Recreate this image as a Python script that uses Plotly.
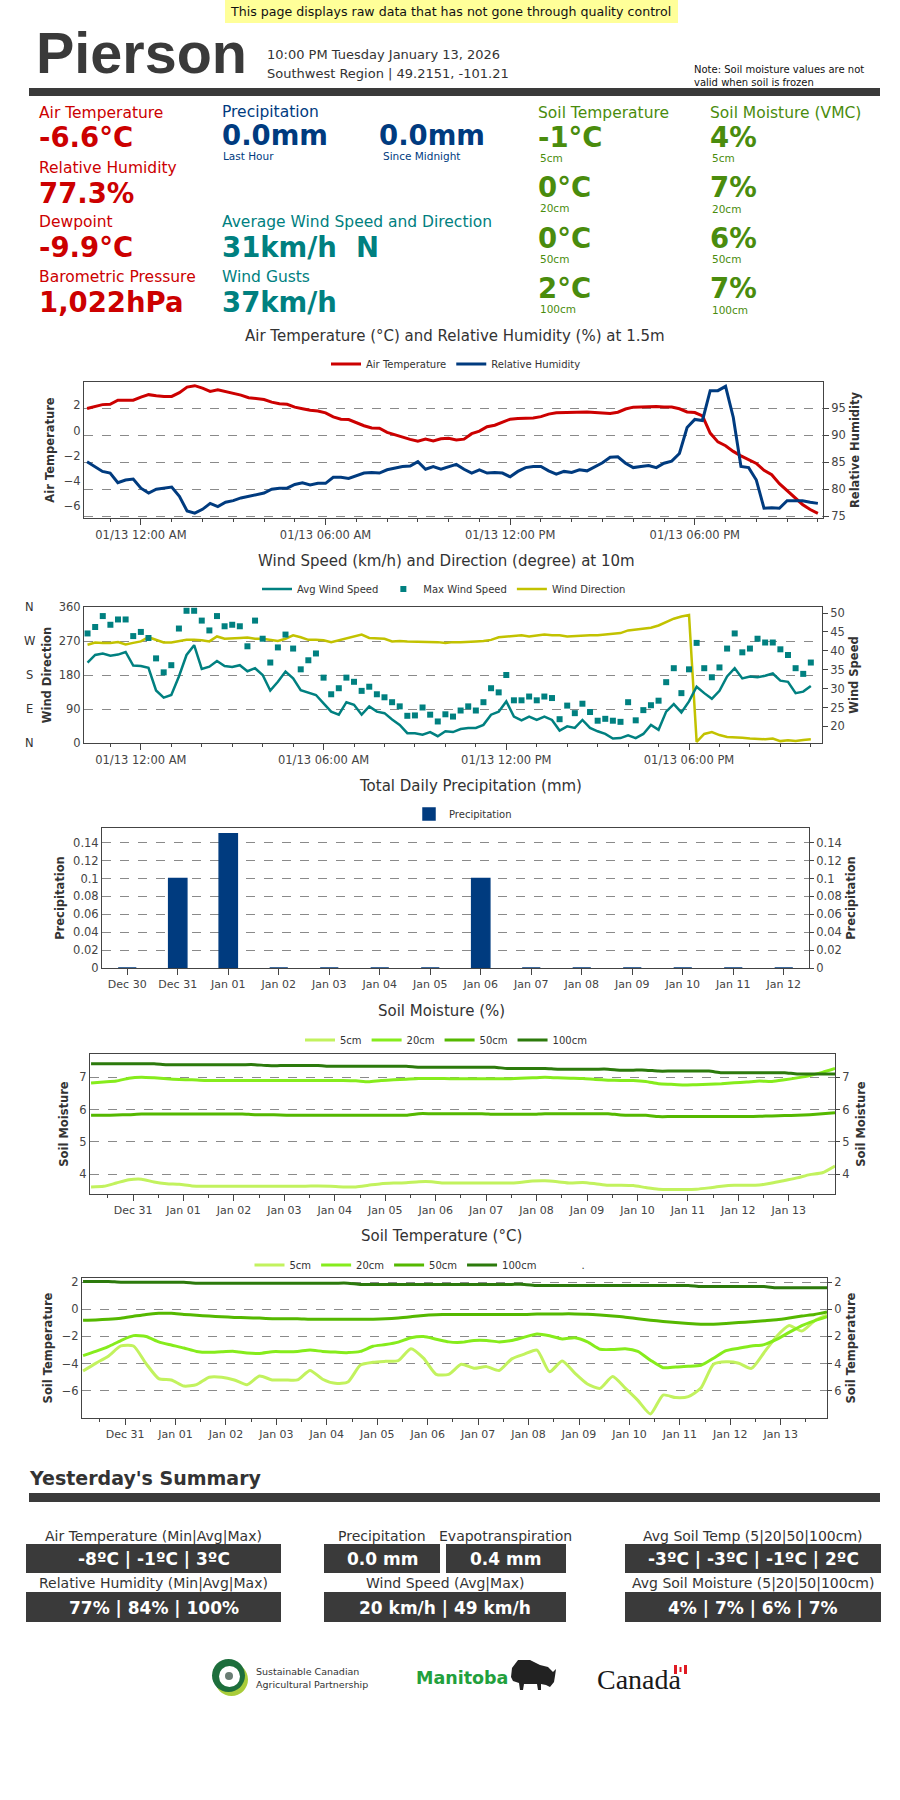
import plotly.graph_objects as go
import pandas as pd

# ---------------- DATA ----------------
station = "Pierson"
obs_time = "10:00 PM Tuesday January 13, 2026"
region_line = "Southwest Region | 49.2151, -101.21"

# 15-minute observations, last 24 h
obs_times = pd.date_range("2026-01-12 22:15", "2026-01-13 22:00", freq="15min")
air_temp = [1.75, 1.9, 2.05, 2.08, 2.4, 2.4, 2.4, 2.65, 2.84, 2.76,
            2.7, 2.7, 3.0, 3.44, 3.55, 3.35, 3.1, 3.23, 3.1, 2.95,
            2.8, 2.6, 2.52, 2.45, 2.25, 2.12, 2.08, 1.85, 1.72, 1.6,
            1.55, 1.4, 1.08, 0.9, 0.87, 0.62, 0.38, 0.2, 0.18, -0.15,
            -0.35, -0.55, -0.7, -0.85, -0.68, -0.82, -0.65, -0.62, -0.75, -0.68,
            -0.25, -0.05, 0.3, 0.42, 0.65, 0.9, 0.95, 0.95, 1.0, 1.1,
            1.3, 1.4, 1.42, 1.42, 1.42, 1.47, 1.42, 1.35, 1.34, 1.45,
            1.7, 1.85, 1.87, 1.92, 1.9, 1.87, 1.86, 1.72, 1.47, 1.42,
            1.15, -0.2, -0.9, -1.2, -1.65, -2.0, -2.3, -2.6, -3.15, -3.5,
            -4.2, -4.75, -5.3, -5.85, -6.25, -6.55]
rel_hum = [85.1, 84.2, 83.3, 83.0, 81.2, 81.7, 81.9, 80.2, 79.3, 80.0,
           80.2, 80.4, 78.7, 76.0, 75.6, 76.3, 77.4, 76.8, 77.6, 77.9,
           78.4, 78.7, 78.9, 79.3, 80.0, 80.2, 80.2, 80.9, 81.2, 80.8,
           81.1, 81.1, 82.2, 82.2, 82.0, 82.5, 83.0, 83.1, 83.0, 83.6,
           83.9, 84.2, 84.3, 85.1, 83.7, 84.2, 83.7, 84.1, 84.6, 83.7,
           83.0, 83.6, 83.0, 83.1, 83.0, 82.3, 83.3, 84.0, 84.2, 84.2,
           83.4, 82.8, 83.3, 83.1, 83.6, 83.4, 84.2, 84.9, 85.9, 86.0,
           84.8, 84.0, 84.2, 84.4, 84.0, 84.8, 85.2, 86.6, 91.4, 92.9,
           92.7, 98.2, 98.2, 99.0, 93.3, 84.2, 84.0, 81.7, 76.5, 76.6,
           76.5, 77.9, 77.9, 77.9, 77.6, 77.4]
avg_wind = [36.9, 38.9, 39.3, 38.7, 39.0, 39.7, 36.1, 36.0, 35.5, 29.5,
            27.6, 28.3, 33.2, 38.9, 41.5, 35.2, 35.8, 37.3, 36.0, 35.7,
            36.2, 34.6, 35.4, 33.6, 29.5, 31.8, 34.5, 32.7, 29.6, 29.0,
            28.3, 26.1, 23.9, 23.1, 26.4, 25.7, 23.1, 25.3, 23.9, 23.5,
            21.8, 20.4, 18.2, 18.2, 17.8, 18.5, 17.4, 18.7, 18.5, 19.3,
            19.6, 19.6, 20.4, 23.1, 23.9, 26.6, 22.6, 21.6, 22.6, 21.7,
            22.6, 21.7, 18.9, 20.0, 19.6, 21.7, 19.6, 18.7, 18.0, 16.8,
            16.9, 17.6, 16.9, 18.0, 20.4, 19.1, 23.9, 25.9, 23.7, 26.6,
            30.5, 28.8, 27.3, 29.4, 33.2, 35.4, 32.7, 33.2, 33.0, 33.4,
            34.0, 32.1, 31.8, 28.8, 29.2, 30.7]
max_wind = [44.6, 46.3, 49.2, 46.9, 48.3, 48.3, 43.9, 45.0, 43.4, 38.0,
            34.3, 36.2, 45.9, 50.6, 50.6, 48.0, 45.4, 49.2, 46.5, 46.9,
            46.5, 41.2, 48.0, 43.2, 36.9, 40.9, 44.3, 40.6, 35.1, 37.5,
            39.3, 32.9, 28.5, 30.1, 32.9, 31.8, 29.4, 30.5, 28.5, 27.7,
            26.4, 25.3, 22.8, 22.9, 25.0, 23.1, 21.3, 23.2, 22.6, 24.2,
            25.3, 24.2, 26.4, 30.1, 29.0, 33.6, 26.9, 26.9, 27.9, 26.9,
            27.9, 27.5, 21.9, 25.5, 23.5, 26.0, 23.8, 21.5, 22.0, 21.5,
            21.2, 26.4, 21.6, 24.3, 25.6, 26.8, 31.7, 35.4, 28.8, 35.1,
            42.1, 35.4, 33.0, 35.6, 40.6, 44.6, 39.6, 40.6, 43.2, 42.2,
            42.2, 40.4, 38.9, 35.4, 33.9, 36.9]
wind_dir = [260, 266, 265, 265, 267, 261, 265, 269, 280, 272,
            266, 266, 270, 273, 273, 272, 269, 282, 276, 276,
            278, 279, 276, 276, 273, 270, 276, 285, 280, 273,
            273, 272, 267, 272, 279, 283, 287, 278, 278, 276,
            269, 270, 269, 269, 267, 269, 267, 265, 267, 267,
            269, 269, 270, 273, 280, 282, 285, 285, 282, 285,
            287, 285, 285, 282, 283, 285, 285, 285, 287, 289,
            291, 298, 301, 302, 305, 311, 320, 329, 335, 339,
            3, 24, 29, 21, 16, 16, 14, 12, 11, 10,
            12, 5, 7, 5, 8, 10]
time_tickvals = ["2026-01-13 00:00", "2026-01-13 06:00", "2026-01-13 12:00", "2026-01-13 18:00"]
time_ticktext = ["01/13 12:00 AM", "01/13 06:00 AM", "01/13 12:00 PM", "01/13 06:00 PM"]
compass_vals = [360, 270, 180, 90, 0]
compass_text = ["N", "W", "S", "E", "N"]

precip_days = ["Dec 30", "Dec 31", "Jan 01", "Jan 02", "Jan 03", "Jan 04", "Jan 05",
               "Jan 06", "Jan 07", "Jan 08", "Jan 09", "Jan 10", "Jan 11", "Jan 12"]
precip_mm = [0, 0.1, 0.15, 0, 0, 0, 0, 0.1, 0, 0, 0, 0, 0, 0]
precip_ticks = [0, 0.02, 0.04, 0.06, 0.08, 0.1, 0.12, 0.14]
precip_ticktext = ["0", "0.02", "0.04", "0.06", "0.08", "0.1", "0.12", "0.14"]

# 6-hourly soil readings over ~15 days
soil_times = pd.date_range("2025-12-30 04:00", "2026-01-13 22:00", freq="6h")
soil_day_vals = ["2025-12-31", "2026-01-01", "2026-01-02", "2026-01-03", "2026-01-04",
                 "2026-01-05", "2026-01-06", "2026-01-07", "2026-01-08", "2026-01-09",
                 "2026-01-10", "2026-01-11", "2026-01-12", "2026-01-13"]
soil_day_text = ["Dec 31", "Jan 01", "Jan 02", "Jan 03", "Jan 04", "Jan 05", "Jan 06",
                 "Jan 07", "Jan 08", "Jan 09", "Jan 10", "Jan 11", "Jan 12", "Jan 13"]
sm_5 = [3.6, 3.62, 3.72, 3.82, 3.84, 3.75, 3.7, 3.68, 3.63, 3.62,
        3.62, 3.62, 3.62, 3.62, 3.62, 3.62, 3.62, 3.62, 3.63, 3.62,
        3.6, 3.6, 3.65, 3.7, 3.72, 3.73, 3.76, 3.76, 3.72, 3.72,
        3.72, 3.72, 3.72, 3.72, 3.74, 3.78, 3.79, 3.76, 3.72, 3.74,
        3.7, 3.65, 3.65, 3.64, 3.58, 3.53, 3.52, 3.52, 3.53, 3.57,
        3.62, 3.65, 3.65, 3.66, 3.72, 3.8, 3.88, 3.98, 4.04, 4.25]
sm_20 = [6.82, 6.85, 6.88, 6.97, 7.0, 6.98, 6.95, 6.93, 6.92, 6.9,
         6.9, 6.9, 6.9, 6.9, 6.9, 6.9, 6.9, 6.9, 6.9, 6.9,
         6.9, 6.89, 6.86, 6.9, 6.92, 6.94, 6.96, 6.96, 6.96, 6.95,
         6.95, 6.95, 6.95, 6.95, 6.97, 6.98, 7.0, 6.98, 6.97, 6.96,
         6.93, 6.91, 6.9, 6.9, 6.87, 6.8, 6.78, 6.76, 6.77, 6.78,
         6.8, 6.83, 6.85, 6.88, 6.87, 6.92, 6.98, 7.05, 7.15, 7.27]
sm_50 = [5.82, 5.82, 5.83, 5.84, 5.86, 5.86, 5.86, 5.86, 5.86, 5.86,
         5.86, 5.86, 5.86, 5.84, 5.84, 5.83, 5.82, 5.82, 5.82, 5.82,
         5.82, 5.82, 5.82, 5.82, 5.82, 5.82, 5.87, 5.87, 5.87, 5.87,
         5.87, 5.87, 5.85, 5.85, 5.85, 5.85, 5.87, 5.87, 5.87, 5.87,
         5.87, 5.87, 5.83, 5.82, 5.82, 5.78, 5.78, 5.78, 5.78, 5.78,
         5.78, 5.78, 5.78, 5.79, 5.8, 5.81, 5.82, 5.84, 5.87, 5.9]
sm_100 = [7.42, 7.42, 7.42, 7.42, 7.42, 7.42, 7.39, 7.39, 7.39, 7.39,
          7.39, 7.39, 7.39, 7.39, 7.36, 7.36, 7.36, 7.36, 7.36, 7.34,
          7.34, 7.34, 7.34, 7.34, 7.34, 7.34, 7.31, 7.31, 7.31, 7.31,
          7.31, 7.31, 7.31, 7.27, 7.27, 7.27, 7.27, 7.25, 7.25, 7.25,
          7.25, 7.25, 7.22, 7.22, 7.22, 7.19, 7.19, 7.19, 7.19, 7.19,
          7.14, 7.14, 7.14, 7.14, 7.14, 7.14, 7.1, 7.1, 7.1, 7.1]
st_5 = [-4.54, -3.98, -3.45, -2.7, -2.7, -4.0, -5.1, -5.2, -5.65, -5.55,
        -5.0, -5.0, -5.2, -5.55, -4.91, -5.2, -5.2, -5.2, -4.5, -5.15,
        -5.45, -5.35, -4.1, -3.9, -3.83, -3.78, -2.9, -3.6, -4.79, -4.79,
        -4.05, -4.34, -4.22, -4.5, -3.65, -3.3, -3.0, -4.6, -3.8, -4.7,
        -5.5, -5.82, -4.95, -5.8, -6.7, -7.7, -6.31, -6.5, -6.43, -5.8,
        -4.05, -3.87, -3.97, -4.35, -3.2, -2.0, -1.2, -1.6, -0.86, -0.42]
st_20 = [-3.41, -3.1, -2.75, -2.3, -1.94, -2.0, -2.4, -2.63, -2.85, -3.1,
         -3.17, -3.12, -3.1, -3.22, -3.25, -3.12, -3.12, -3.1, -3.0, -3.1,
         -3.15, -3.19, -3.1, -2.72, -2.6, -2.42, -2.1, -2.01, -2.2, -2.4,
         -2.43, -2.3, -2.3, -2.4, -2.3, -2.05, -1.82, -1.95, -2.18, -2.1,
         -2.4, -2.94, -2.96, -2.9, -3.1, -3.75, -4.3, -4.24, -4.2, -4.12,
         -3.6, -3.05, -2.87, -2.7, -2.6, -2.22, -1.7, -1.2, -0.85, -0.55]
st_50 = [-0.81, -0.79, -0.74, -0.66, -0.52, -0.38, -0.3, -0.3, -0.38, -0.44,
         -0.5, -0.55, -0.6, -0.62, -0.65, -0.69, -0.7, -0.7, -0.73, -0.74,
         -0.74, -0.74, -0.74, -0.73, -0.7, -0.64, -0.55, -0.45, -0.4, -0.38,
         -0.38, -0.38, -0.38, -0.38, -0.38, -0.38, -0.35, -0.34, -0.34, -0.34,
         -0.36, -0.42, -0.5, -0.58, -0.7, -0.8, -0.9, -0.98, -1.05, -1.1,
         -1.1, -1.05, -0.98, -0.92, -0.85, -0.78, -0.65, -0.5, -0.38, -0.2]
st_100 = [2.04, 2.04, 2.04, 1.99, 1.99, 1.99, 1.99, 1.99, 1.99, 1.92,
          1.92, 1.92, 1.92, 1.92, 1.92, 1.92, 1.92, 1.92, 1.92, 1.92,
          1.92, 1.92, 1.83, 1.83, 1.83, 1.83, 1.83, 1.83, 1.83, 1.83,
          1.83, 1.83, 1.83, 1.83, 1.83, 1.83, 1.75, 1.75, 1.75, 1.75,
          1.75, 1.75, 1.75, 1.75, 1.75, 1.75, 1.75, 1.75, 1.75, 1.67,
          1.67, 1.67, 1.67, 1.67, 1.67, 1.58, 1.58, 1.58, 1.58, 1.58]
soil_depths = ["5cm", "20cm", "50cm", "100cm"]
soil_temp_right_text = ["6", "4", "2", "0", "2"]

# current conditions text
cur_air = "-6.6°C"; cur_rh = "77.3%"; cur_dew = "-9.9°C"; cur_bp = "1,022hPa"
cur_pcp_hr = "0.0mm"; cur_pcp_mid = "0.0mm"; cur_wind = "31km/h\u00a0\u00a0N"; cur_gust = "37km/h"
cur_soil_t = ["-1°C", "0°C", "0°C", "2°C"]
cur_soil_m = ["4%", "7%", "6%", "7%"]

# yesterday's summary
sum_air = "-8ºC | -1ºC | 3ºC"; sum_rh = "77% | 84% | 100%"
sum_pcp = "0.0 mm"; sum_et = "0.4 mm"; sum_wind = "20 km/h | 49 km/h"
sum_soil_t = "-3ºC | -3ºC | -1ºC | 2ºC"; sum_soil_m = "4% | 7% | 6% | 7%"

# ---------------- STYLE / HELPERS ----------------
W, H = 900, 1800
F = "DejaVu Sans, Verdana, sans-serif"
RED = "#cc0000"; NAVY = "#003b7f"; TEAL = "#008080"; YEL = "#c2c200"; GRN = "#4a8c0d"
DARK = "#3a3a3a"; AX = "#444444"; TXT = "#333333"
SOIL_COLORS = ["#c2f25e", "#86ec1c", "#55b800", "#2c7a0c"]
SOIL_RANGE = ["2025-12-30 03:30", "2026-01-13 22:00"]


def px(x):
    return x / W


def py(y):
    return 1 - y / H


def M(*ds, **kw):
    out = {}
    for d in ds:
        out.update(d)
    out.update(kw)
    return out


def ann(x, y, text, size, color=TXT, family=F, xanchor="left", yanchor="middle"):
    return dict(x=px(x), y=py(y), xref="paper", yref="paper", text=text, showarrow=False,
                font=dict(size=size, color=color, family=family), xanchor=xanchor, yanchor=yanchor)


def rect(x0, y0, x1, y1, color, layer="below"):
    return dict(type="rect", xref="paper", yref="paper", x0=px(x0), x1=px(x1), y0=py(y1), y1=py(y0),
                fillcolor=color, line=dict(width=0), layer=layer)


def circ(x0, y0, x1, y1, color):
    return dict(type="circle", xref="paper", yref="paper", x0=px(x0), x1=px(x1), y0=py(y1), y1=py(y0),
                fillcolor=color, line=dict(width=0), layer="above")


tickfont = dict(family=F, size=11.5, color=AX)
xsmallfont = dict(family=F, size=11, color=AX)
ytitlefont = dict(family=F, size=11.5, color=TXT)
legfont = dict(family=F, size=10, color=TXT)
base_ax = dict(showline=True, linecolor=AX, linewidth=1, zeroline=False, automargin=False)
grid_on = dict(showgrid=True, gridcolor="#8a8a8a", griddash="dash", gridwidth=1)

fig = go.Figure()

# ---------- Chart 1: air temp / RH ----------
fig.add_trace(go.Scatter(x=obs_times, y=air_temp, name="Air Temperature", mode="lines",
                         line=dict(color=RED, width=3), xaxis="x", yaxis="y", legend="legend"))
fig.add_trace(go.Scatter(x=obs_times, y=rel_hum, name="Relative Humidity", mode="lines",
                         line=dict(color=NAVY, width=3), xaxis="x", yaxis="y2", legend="legend"))

# ---------- Chart 2: wind ----------
fig.add_trace(go.Scatter(x=obs_times, y=avg_wind, name="Avg Wind Speed", mode="lines",
                         line=dict(color=TEAL, width=2.5), xaxis="x2", yaxis="y4", legend="legend2"))
fig.add_trace(go.Scatter(x=obs_times, y=max_wind, name="Max Wind Speed", mode="markers",
                         marker=dict(color=TEAL, size=6, symbol="square"), xaxis="x2", yaxis="y4",
                         legend="legend2"))
fig.add_trace(go.Scatter(x=obs_times, y=wind_dir, name="Wind Direction", mode="lines",
                         line=dict(color=YEL, width=2.5), xaxis="x2", yaxis="y3", legend="legend2"))

# ---------- Chart 3: precipitation ----------
fig.add_trace(go.Bar(x=precip_days, y=precip_mm, name="Precipitation", width=0.36,
                     marker=dict(color=NAVY, line=dict(color=NAVY, width=1.5)),
                     xaxis="x3", yaxis="y5", legend="legend3"))
fig.add_trace(go.Scatter(x=precip_days[:1], y=precip_mm[:1], mode="markers", marker=dict(opacity=0),
                         showlegend=False, hoverinfo="skip", xaxis="x3", yaxis="y6"))

# ---------- Chart 4: soil moisture ----------
for name, vals, col in zip(soil_depths, [sm_5, sm_20, sm_50, sm_100], SOIL_COLORS):
    fig.add_trace(go.Scatter(x=soil_times, y=vals, name=name, mode="lines",
                             line=dict(color=col, width=3, shape="spline", smoothing=0.6),
                             xaxis="x4", yaxis="y7", legend="legend4"))
fig.add_trace(go.Scatter(x=soil_times[:1], y=sm_5[:1], mode="markers", marker=dict(opacity=0),
                         showlegend=False, hoverinfo="skip", xaxis="x4", yaxis="y8"))

# ---------- Chart 5: soil temperature ----------
for name, vals, col in zip(soil_depths, [st_5, st_20, st_50, st_100], SOIL_COLORS):
    fig.add_trace(go.Scatter(x=soil_times, y=vals, name=name, mode="lines",
                             line=dict(color=col, width=3, shape="spline", smoothing=0.6),
                             xaxis="x5", yaxis="y9", legend="legend5"))
fig.add_trace(go.Scatter(x=[None], y=[None], name=".", mode="lines",
                         line=dict(color="rgba(0,0,0,0)", width=3), xaxis="x5", yaxis="y9",
                         legend="legend5"))
fig.add_trace(go.Scatter(x=soil_times[:1], y=st_5[:1], mode="markers", marker=dict(opacity=0),
                         showlegend=False, hoverinfo="skip", xaxis="x5", yaxis="y10"))


def time_x(dom, anchor, rng):
    return M(base_ax, domain=[px(dom[0]), px(dom[1])], anchor=anchor, type="date", range=rng,
             tickmode="array", tickvals=time_tickvals, ticktext=time_ticktext,
             ticks="outside", ticklen=6, tickcolor=AX, mirror=True, showgrid=False,
             minor=dict(ticks="outside", ticklen=3, dtick=3600000, tick0="2026-01-13 00:00",
                        tickcolor=AX, showgrid=False),
             tickfont=tickfont)


def soil_x(dom, anchor):
    return M(base_ax, domain=[px(dom[0]), px(dom[1])], anchor=anchor, type="date",
             range=SOIL_RANGE, tickmode="array",
             tickvals=soil_day_vals, ticktext=soil_day_text, ticks="outside", ticklen=6,
             tickcolor=AX, mirror=True, showgrid=False, tickfont=xsmallfont,
             minor=dict(ticks="outside", ticklen=3, dtick=86400000, tick0="2025-12-31 12:00",
                        tickcolor=AX, showgrid=False))


def ydom(top, bot):
    return [py(bot), py(top)]


def ttl(text, standoff=6):
    return dict(text=f"<b>{text}</b>", font=ytitlefont, standoff=standoff)


layout_axes = dict(
    xaxis=time_x((84, 823), "y", ["2026-01-12 22:09", "2026-01-13 22:10"]),
    yaxis=M(base_ax, domain=ydom(382, 518), anchor="x", range=[-6.92, 3.84],
            tickvals=[-6, -4, -2, 0, 2], ticks="", showgrid=False, tickfont=tickfont,
            title=ttl("Air Temperature")),
    yaxis2=M(base_ax, grid_on, overlaying="y", side="right", anchor="x", range=[74.7, 99.8],
             tickvals=[75, 80, 85, 90, 95], ticks="outside", ticklen=5, tickcolor=AX,
             tickfont=tickfont, title=ttl("Relative Humidity")),
    xaxis2=time_x((84, 822), "y3", ["2026-01-12 22:08", "2026-01-13 22:22"]),
    yaxis3=M(base_ax, grid_on, domain=ydom(607, 743), anchor="x2", range=[0, 360],
             tickvals=[0, 90, 180, 270, 360], ticks="", tickfont=tickfont,
             title=ttl("Wind Direction", 4)),
    yaxis4=M(base_ax, overlaying="y3", side="right", anchor="x2", range=[15.6, 51.6],
             tickvals=[20, 25, 30, 35, 40, 45, 50], ticks="outside", ticklen=5, tickcolor=AX,
             showgrid=False, tickfont=tickfont, title=ttl("Wind Speed")),
    xaxis3=M(base_ax, domain=[px(102), px(809)], anchor="y5", type="category",
             range=[-0.5, 13.5], ticks="outside", ticklen=6, tickcolor=AX, mirror=True,
             showgrid=False, tickfont=xsmallfont),
    yaxis5=M(base_ax, grid_on, domain=ydom(828, 968), anchor="x3", range=[0, 0.1565],
             tickvals=precip_ticks, ticktext=precip_ticktext, ticks="", tickfont=tickfont,
             title=ttl("Precipitation")),
    yaxis6=M(base_ax, overlaying="y5", side="right", anchor="x3", range=[0, 0.1565],
             tickvals=precip_ticks, ticktext=precip_ticktext, ticks="outside", ticklen=4,
             tickcolor=AX, showgrid=False, tickfont=tickfont, title=ttl("Precipitation")),
    xaxis4=soil_x((90, 835), "y7"),
    yaxis7=M(base_ax, grid_on, domain=ydom(1054, 1194), anchor="x4", range=[3.38, 7.72],
             tickvals=[4, 5, 6, 7], ticks="", tickfont=tickfont, title=ttl("Soil Moisture", 8)),
    yaxis8=M(base_ax, overlaying="y7", side="right", anchor="x4", range=[3.38, 7.72],
             tickvals=[4, 5, 6, 7], ticks="outside", ticklen=4, tickcolor=AX, showgrid=False,
             tickfont=tickfont, title=ttl("Soil Moisture", 8)),
    xaxis5=soil_x((82, 827), "y9"),
    yaxis9=M(base_ax, grid_on, domain=ydom(1278, 1418), anchor="x5", range=[-8.0, 2.3],
             tickvals=[-6, -4, -2, 0, 2], ticks="", tickfont=tickfont,
             title=ttl("Soil Temperature")),
    yaxis10=M(base_ax, overlaying="y9", side="right", anchor="x5", range=[-8.0, 2.3],
              tickvals=[-6, -4, -2, 0, 2], ticktext=soil_temp_right_text, ticks="outside",
              ticklen=4, tickcolor=AX, showgrid=False, tickfont=tickfont,
              title=ttl("Soil Temperature")),
)


def leg(xc, yc):
    return dict(x=px(xc), y=py(yc), xanchor="center", yanchor="middle", orientation="h",
                font=legfont, bgcolor="rgba(0,0,0,0)", itemwidth=30, tracegroupgap=0)


# ---------------- ANNOTATIONS ----------------
A = []
# header
A.append(ann(451, 11.5, "This page displays raw data that has not gone through quality control", 12.6,
             color="#111", xanchor="center"))
A.append(ann(34, 53, f"<b>{station}</b>", 57.5, color=DARK, family="Liberation Sans, Arial, sans-serif"))
A.append(ann(265, 54, obs_time, 13))
A.append(ann(265, 73, region_line, 13))
A.append(ann(692, 69, "Note: Soil moisture values are not", 10, color="#111"))
A.append(ann(692, 82, "valid when soil is frozen", 10, color="#111"))

# current conditions
LBL = 15.5; VAL = 27.5; SM = 10.5
for lab, val, yl, yv in [("Air Temperature", cur_air, 113, 137), ("Relative Humidity", cur_rh, 168, 193),
                         ("Dewpoint", cur_dew, 222, 247), ("Barometric Pressure", cur_bp, 277, 302)]:
    A.append(ann(37, yl, lab, LBL, color=RED))
    A.append(ann(37, yv, f"<b>{val}</b>", VAL, color=RED))
A.append(ann(220, 112, "Precipitation", LBL, color=NAVY))
A.append(ann(220, 135, f"<b>{cur_pcp_hr}</b>", VAL, color=NAVY))
A.append(ann(221, 156, "Last Hour", SM, color=NAVY))
A.append(ann(377, 135, f"<b>{cur_pcp_mid}</b>", VAL, color=NAVY))
A.append(ann(381, 156, "Since Midnight", SM, color=NAVY))
A.append(ann(220, 222, "Average Wind Speed and Direction", LBL, color=TEAL))
A.append(ann(220, 247, f"<b>{cur_wind}</b>", VAL, color=TEAL))
A.append(ann(220, 277, "Wind Gusts", LBL, color=TEAL))
A.append(ann(220, 302, f"<b>{cur_gust}</b>", VAL, color=TEAL))
A.append(ann(536, 113, "Soil Temperature", LBL, color=GRN))
A.append(ann(708, 113, "Soil Moisture (VMC)", LBL, color=GRN))
for i, (t, m, d) in enumerate(zip(cur_soil_t, cur_soil_m, soil_depths)):
    yv = 137 + 50.5 * i
    A.append(ann(536, yv, f"<b>{t}</b>", VAL, color=GRN))
    A.append(ann(708, yv, f"<b>{m}</b>", VAL, color=GRN))
    A.append(ann(538, yv + 20.5, d, SM, color=GRN))
    A.append(ann(710, yv + 21, d, SM, color=GRN))

# chart titles
A.append(ann(455, 336, "Air Temperature (°C) and Relative Humidity (%) at 1.5m", 15, xanchor="center"))
A.append(ann(446, 561, "Wind Speed (km/h) and Direction (degree) at 10m", 15, xanchor="center"))
A.append(ann(470, 786, "Total Daily Precipitation (mm)", 15, xanchor="center"))
A.append(ann(441, 1011, "Soil Moisture (%)", 15, xanchor="center"))
A.append(ann(441, 1236, "Soil Temperature (°C)", 15, xanchor="center"))
# compass letters on wind chart
for v, t in zip(compass_vals, compass_text):
    A.append(dict(x=px(29), y=v, xref="paper", yref="y3", text=t, showarrow=False,
                  font=dict(family=F, size=11.5, color=TXT), xanchor="center", yanchor="middle"))

# summary
A.append(ann(27, 1478, "<b>Yesterday's Summary</b>", 19, color=TXT))
SL = 14; SV = 17
boxes = [  # (x0, x1, label, value, label_y, box_top, box_bot)
    (26, 281, "Air Temperature (Min|Avg|Max)", sum_air, 1536, 1544, 1573),
    (26, 281, "Relative Humidity (Min|Avg|Max)", sum_rh, 1583, 1592, 1622),
    (324, 440, "Precipitation", sum_pcp, 1536, 1544, 1573),
    (446, 566, "Evapotranspiration", sum_et, 1536, 1544, 1573),
    (324, 566, "Wind Speed (Avg|Max)", sum_wind, 1583, 1592, 1622),
    (625, 881, "Avg Soil Temp (5|20|50|100cm)", sum_soil_t, 1536, 1544, 1573),
    (625, 881, "Avg Soil Moisture (5|20|50|100cm)", sum_soil_m, 1583, 1592, 1622),
]
S = []
for x0, x1, lab, val, ly, bt, bb in boxes:
    S.append(rect(x0, bt, x1, bb, DARK))
    A.append(ann((x0 + x1) / 2, ly, lab, SL, xanchor="center"))
    A.append(ann((x0 + x1) / 2, (bt + bb) / 2 + 0.5, f"<b>{val}</b>", SV, color="white", xanchor="center"))

# logos
A.append(ann(254, 1671, "Sustainable Canadian", 9.5, color="#333"))
A.append(ann(254, 1684, "Agricultural Partnership", 9.5, color="#333"))
A.append(ann(414, 1678, "<b>Manitoba</b>", 17.5, color="#22a03c"))
A.append(ann(595, 1679, "Canada", 28, color="#1a1a1a", family="Liberation Serif, Times New Roman, serif"))

# ---------------- SHAPES ----------------
S.append(rect(225, 0, 678, 23, "#ffff99"))
S.append(rect(29, 88, 880, 96, DARK))
S.append(rect(29, 1493, 880, 1502, DARK))
S.append(circ(215, 1663, 248, 1696, "#a9cc3a"))
S.append(circ(212, 1659, 245, 1692, "#1d6e3c"))
S.append(circ(219, 1666, 240, 1687, "white"))
S.append(circ(225, 1672, 233, 1680, "#6a7d74"))
bison = [(511, 1677), (512, 1668), (518, 1660), (530, 1660), (540, 1665), (548, 1667), (553, 1672),
         (556, 1669), (555, 1676), (554, 1682), (550, 1687), (546, 1685), (541, 1684), (541, 1690),
         (538, 1690), (537, 1684), (524, 1684), (523, 1690), (520, 1690), (519, 1683), (513, 1681)]
path = "M " + " L ".join(f"{px(x):.5f},{py(y):.5f}" for x, y in bison) + " Z"
S.append(dict(type="path", xref="paper", yref="paper", path=path, fillcolor="#222222",
              line=dict(width=0), layer="above"))
S.append(rect(674, 1665, 677, 1674, "#e01a22", "above"))
S.append(rect(684, 1665, 687, 1674, "#e01a22", "above"))
S.append(rect(679.5, 1667, 681.5, 1672, "#e01a22", "above"))

fig.update_layout(
    width=W, height=H, margin=dict(l=0, r=0, t=0, b=0), paper_bgcolor="white", plot_bgcolor="white",
    showlegend=True, annotations=A, shapes=S, bargap=0.6,
    legend=leg(456, 364), legend2=leg(444, 589), legend3=leg(463, 814),
    legend4=leg(446, 1040), legend5=leg(420, 1265),
    **layout_axes,
)

fig.write_html("out.html", config={"displayModeBar": False},
               post_script="document.body.style.margin='0';")
